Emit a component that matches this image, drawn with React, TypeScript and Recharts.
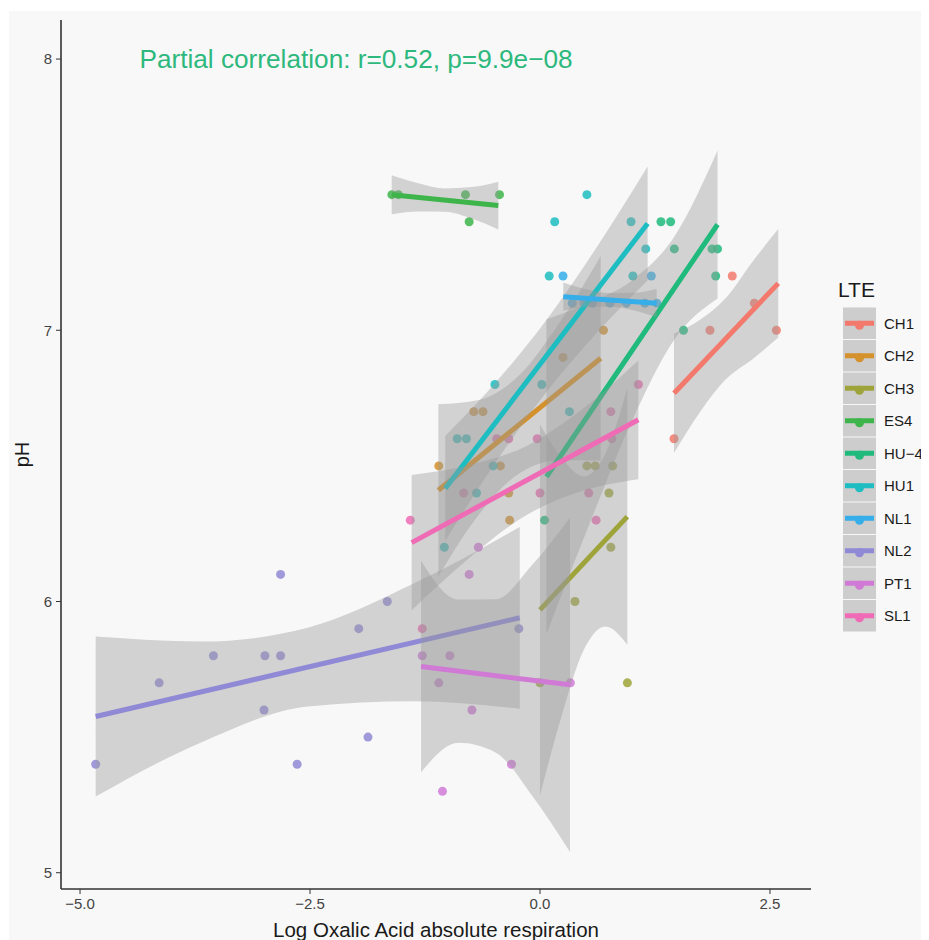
import React from "react";
import { ComposedChart, XAxis, YAxis, Scatter, Area, Line, ReferenceDot } from "recharts";

// observed (log oxalic acid respiration, pH) per LTE site
const ch1Points = [[1.457, 6.6], [1.848, 7.0], [2.09, 7.2], [2.33, 7.1], [2.57, 7.0]];
const ch2Points = [[-1.1, 6.5], [-0.72, 6.7], [-0.62, 6.7], [-0.43, 6.5], [-0.34, 6.4], [-0.33, 6.3], [0.25, 6.9], [0.69, 7.0]];
const ch3Points = [[0.0, 5.7], [0.38, 6.0], [0.51, 6.5], [0.6, 6.5], [0.75, 6.4], [0.77, 6.2], [0.79, 6.5], [0.95, 5.7]];
const es4Points = [[-1.61, 7.5], [-1.54, 7.5], [-0.81, 7.5], [-0.77, 7.4], [-0.44, 7.5]];
const hu4Points = [[0.05, 6.3], [1.315, 7.4], [1.42, 7.4], [1.46, 7.3], [1.56, 7.0], [1.87, 7.3], [1.93, 7.3], [1.91, 7.2]];
const hu1Points = [[-1.04, 6.2], [-0.9, 6.6], [-0.8, 6.6], [-0.69, 6.4], [-0.51, 6.5], [-0.49, 6.8], [0.02, 6.8], [0.1, 7.2], [0.16, 7.4], [0.32, 6.7], [0.51, 7.5], [0.99, 7.4], [1.01, 7.2], [1.15, 7.3]];
const nl1Points = [[0.25, 7.2], [0.35, 7.1], [0.48, 7.1], [0.57, 7.1], [0.76, 7.1], [0.94, 7.1], [1.14, 7.1], [1.27, 7.1], [1.21, 7.2]];
const nl2Points = [[-4.83, 5.4], [-4.14, 5.7], [-3.55, 5.8], [-3.0, 5.6], [-2.99, 5.8], [-2.82, 5.8], [-2.82, 6.1], [-2.64, 5.4], [-1.97, 5.9], [-1.87, 5.5], [-1.66, 6.0], [-0.23, 5.9]];
const pt1Points = [[-1.28, 5.8], [-0.98, 5.8], [-1.1, 5.7], [-0.74, 5.6], [-1.06, 5.3], [-0.31, 5.4], [-0.77, 6.1], [-0.67, 6.2], [0.33, 5.7]];
const sl1Points = [[-1.41, 6.3], [-1.28, 5.9], [-0.83, 6.4], [-0.47, 6.6], [-0.34, 6.6], [-0.03, 6.6], [0.0, 6.4], [0.53, 6.4], [0.61, 6.3], [0.77, 6.7], [0.78, 6.6], [1.07, 6.8]];

// lm fit end points
const ch1Fit = [[1.457, 6.768], [2.59, 7.173]];
const ch2Fit = [[-1.105, 6.41], [0.66, 6.897]];
const ch3Fit = [[0.0, 5.969], [0.949, 6.313]];
const es4Fit = [[-1.612, 7.5], [-0.453, 7.46]];
const hu4Fit = [[0.07, 6.46], [1.93, 7.39]];
const hu1Fit = [[-1.03, 6.417], [1.17, 7.394]];
const nl1Fit = [[0.253, 7.124], [1.268, 7.1]];
const nl2Fit = [[-4.83, 5.576], [-0.22, 5.94]];
const pt1Fit = [[-1.293, 5.76], [0.326, 5.693]];
const sl1Fit = [[-1.395, 6.217], [1.069, 6.67]];

// 95% band: x, lower, upper
const ch1Band = [[1.457, 6.548, 6.988], [1.74, 6.699, 7.039], [2.02, 6.819, 7.119], [2.31, 6.893, 7.253], [2.59, 6.973, 7.373]];
const ch2Band = [[-1.105, 6.093, 6.727], [-0.664, 6.321, 6.743], [-0.2225, 6.473, 6.835], [0.219, 6.521, 7.031], [0.66, 6.52, 7.274]];
const ch3Band = [[0.0, 5.285, 6.653], [0.237, 5.581, 6.529], [0.475, 5.821, 6.461], [0.712, 5.908, 6.546], [0.949, 5.841, 6.785]];
const es4Band = [[-1.612, 7.428, 7.572], [-1.322, 7.438, 7.542], [-1.033, 7.437, 7.523], [-0.743, 7.412, 7.528], [-0.453, 7.372, 7.548]];
const hu4Band = [[0.07, 5.88, 7.04], [0.535, 6.284, 7.102], [1.0, 6.666, 7.184], [1.465, 6.968, 7.348], [1.93, 7.117, 7.663]];
const hu1Band = [[-1.03, 6.224, 6.61], [-0.48, 6.514, 6.808], [0.07, 6.772, 7.038], [0.62, 6.992, 7.308], [1.17, 7.184, 7.604]];
const nl1Band = [[0.253, 7.072, 7.176], [0.507, 7.086, 7.15], [0.76, 7.087, 7.137], [1.014, 7.074, 7.138], [1.268, 7.048, 7.152]];
const nl2Band = [[-4.83, 5.281, 5.871], [-3.6775, 5.4815, 5.8525], [-2.525, 5.6127, 5.9033], [-1.3725, 5.632, 6.066], [-0.22, 5.605, 6.275]];
const pt1Band = [[-1.293, 5.37, 6.15], [-0.888, 5.479, 6.007], [-0.4835, 5.4435, 6.0085], [-0.079, 5.281, 6.137], [0.326, 5.076, 6.31]];
const sl1Band = [[-1.395, 5.968, 6.466], [-0.779, 6.158, 6.502], [-0.163, 6.315, 6.571], [0.453, 6.407, 6.707], [1.069, 6.451, 6.889]];

const xTicks = [-5, -2.5, 0, 2.5];
const yTicks = [5, 6, 7, 8];

const series = [
  { name: "CH1", color: "#f2796c", points: ch1Points, fit: ch1Fit, band: ch1Band },
  { name: "CH2", color: "#d4912c", points: ch2Points, fit: ch2Fit, band: ch2Band },
  { name: "CH3", color: "#9fa43a", points: ch3Points, fit: ch3Fit, band: ch3Band },
  { name: "ES4", color: "#3db54a", points: es4Points, fit: es4Fit, band: es4Band },
  { name: "HU\u22124", color: "#1fba7c", points: hu4Points, fit: hu4Fit, band: hu4Band },
  { name: "HU1", color: "#1dbdc1", points: hu1Points, fit: hu1Fit, band: hu1Band },
  { name: "NL1", color: "#35aeea", points: nl1Points, fit: nl1Fit, band: nl1Band },
  { name: "NL2", color: "#9089d6", points: nl2Points, fit: nl2Fit, band: nl2Band },
  { name: "PT1", color: "#d07ad6", points: pt1Points, fit: pt1Fit, band: pt1Band },
  { name: "SL1", color: "#f06bb5", points: sl1Points, fit: sl1Fit, band: sl1Band },
];

const FONT = "'Liberation Sans', Arial, Helvetica, sans-serif";
const fmtX = (v: number) => (v < 0 ? "\u2212" : "") + Math.abs(v).toFixed(1);

const xy = (rows: number[][]) => rows.map(([x, y]) => ({ x, y }));
const ribbon = (rows: number[][]) => rows.map(([x, lo, hi]) => ({ x, ci: [lo, hi] }));

function Legend() {
  const keyH = 32.5;
  const top = 299;
  return (
    <svg width={921} height={932} style={{ position: "absolute", left: 0, top: 0, pointerEvents: "none" }}>
      <text x={830} y={281} fontSize={21} fontFamily={FONT} fill="#1a1a1a" dominantBaseline="central">
        LTE
      </text>
      {series.map((s, i) => {
        const cy = top + keyH * i + keyH / 2;
        return (
          <g key={s.name}>
            <rect x={835} y={top + keyH * i + 0.5} width={33} height={keyH - 1} fill="#999999" fillOpacity={0.45} />
            <line x1={837} x2={866} y1={cy} y2={cy} stroke={s.color} strokeWidth={5} />
            <circle cx={851.5} cy={cy + 2} r={4.5} fill={s.color} />
            <text x={876} y={cy} fontSize={15} fontFamily={FONT} fill="#1a1a1a" dominantBaseline="central">
              {s.name}
            </text>
          </g>
        );
      })}
    </svg>
  );
}

export default function App() {
  return (
    <div style={{ position: "relative", width: 921, height: 932, background: "#ffffff" }}>
      <div style={{ position: "absolute", left: 1, top: 3, right: 0, bottom: 0, background: "#f8f8f8" }} />
      <div style={{ position: "absolute", left: 0, top: 0 }}>
        <ComposedChart
          width={921}
          height={932}
          margin={{ top: 12, right: 118, bottom: 11, left: 13 }}
          style={{ fontFamily: FONT }}
        >
          <XAxis
            type="number"
            dataKey="x"
            domain={[-5.207, 2.946]}
            ticks={xTicks}
            allowDataOverflow
            height={40}
            tickFormatter={fmtX}
            tick={{ fill: "#444444", fontSize: 15 }}
            tickSize={5}
            tickMargin={4}
            axisLine={{ stroke: "#333333", strokeWidth: 1.6 }}
            tickLine={{ stroke: "#333333" }}
            label={{
              content: (p: any) => {
                const vb = p.viewBox;
                return (
                  <text x={vb.x + vb.width / 2} y={vb.y + 40} textAnchor="middle" dominantBaseline="central" fontSize={20.5} fill="#1a1a1a" fontFamily={FONT}>
                    Log Oxalic Acid absolute respiration
                  </text>
                );
              },
            }}
          />
          <YAxis
            type="number"
            dataKey="y"
            domain={[4.94, 8.144]}
            ticks={yTicks}
            allowDataOverflow
            width={40}
            tick={{ fill: "#444444", fontSize: 15 }}
            tickSize={5}
            tickMargin={4}
            axisLine={{ stroke: "#333333", strokeWidth: 1.6 }}
            tickLine={{ stroke: "#333333" }}
            label={{
              content: (p: any) => {
                const vb = p.viewBox;
                const cx = vb.x + 1;
                const cy = vb.y + vb.height / 2;
                return (
                  <text x={cx} y={cy} transform={`rotate(-90 ${cx} ${cy})`} textAnchor="middle" dominantBaseline="central" fontSize={20} fill="#1a1a1a" fontFamily={FONT}>
                    pH
                  </text>
                );
              },
            }}
          />
          {series.map((s) => (
            <Scatter
              key={`pts-${s.name}`}
              data={xy(s.points)}
              isAnimationActive={false}
              zIndex={110}
              shape={(p: any) => <circle cx={p.cx} cy={p.cy} r={4.5} fill={s.color} fillOpacity={0.85} />}
            />
          ))}
          {series.flatMap((s, i) => [
            <Area
              key={`band-${s.name}`}
              data={ribbon(s.band)}
              dataKey="ci"
              type="monotone"
              stroke="none"
              fill="#999999"
              fillOpacity={0.4}
              isAnimationActive={false}
              zIndex={120 + 2 * i}
            />,
            <Line
              key={`fit-${s.name}`}
              data={xy(s.fit)}
              dataKey="y"
              stroke={s.color}
              strokeWidth={5}
              dot={false}
              activeDot={false}
              isAnimationActive={false}
              zIndex={121 + 2 * i}
            />,
          ])}
          <ReferenceDot
            x={-2}
            y={8}
            r={1}
            fill="none"
            stroke="none"
            ifOverflow="visible"
            label={{
              content: (p: any) => {
                const vb = p.viewBox;
                return (
                  <text x={vb.x + vb.width / 2} y={vb.y + vb.height / 2} textAnchor="middle" dominantBaseline="central" fontSize={26.2} fill="#2db87d" fontFamily={FONT}>
                    Partial correlation: r=0.52, p=9.9e{"\u2212"}08
                  </text>
                );
              },
            }}
          />
        </ComposedChart>
      </div>
      <Legend />
    </div>
  );
}
